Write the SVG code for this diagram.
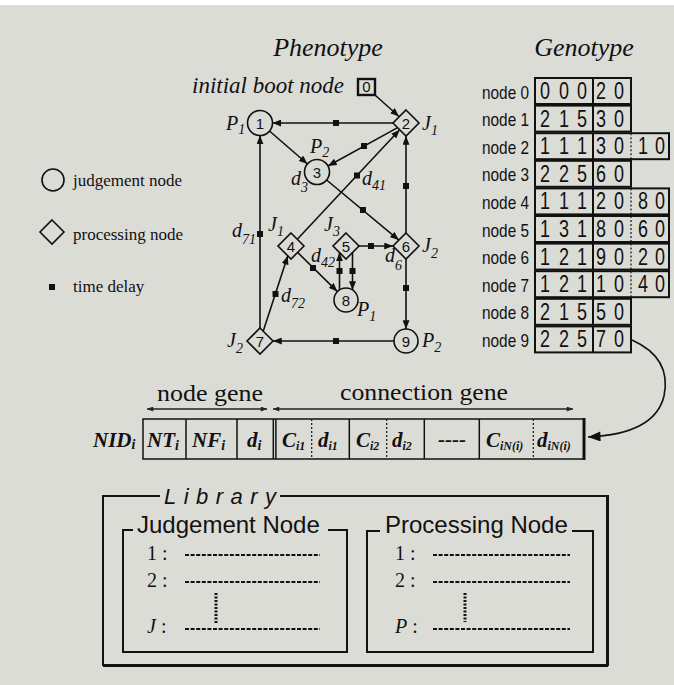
<svg xmlns="http://www.w3.org/2000/svg" width="674" height="685" viewBox="0 0 674 685">
<defs>
<style>
.ser{font-family:"Liberation Serif","Times New Roman",serif;fill:#111}
.it{font-style:italic}
.bi{font-family:"Liberation Serif","Times New Roman",serif;font-style:italic;font-weight:bold;fill:#111;font-size:21px}
.sans{font-family:"Liberation Sans",Arial,sans-serif;fill:#111}
.nd{fill:none;stroke:#111;stroke-width:1.6}
.cn{fill:none;stroke:#111;stroke-width:1.6}
.dl{fill:#111}
.num{font-family:"Liberation Sans",Arial,sans-serif;font-size:15px;fill:#111;text-anchor:middle}
.lab{font-family:"Liberation Serif","Times New Roman",serif;font-style:italic;font-size:20px;fill:#111}
.row{fill:none;stroke:#111;stroke-width:2}
.dig{font-family:"Liberation Sans",Arial,sans-serif;font-size:23px;fill:#111}
.rl{font-family:"Liberation Sans",Arial,sans-serif;font-size:18.5px;fill:#111}
.dash{fill:none;stroke:#111;stroke-width:1.2;stroke-dasharray:2 2}
.sol{fill:none;stroke:#111;stroke-width:1.5}
.lib{fill:none;stroke:#111;stroke-width:2}
.ent{font-family:"Liberation Serif","Times New Roman",serif;font-size:20px;fill:#111}
.dots{fill:none;stroke:#111;stroke-width:1.8;stroke-dasharray:4 1.6}
.vdots{fill:none;stroke:#111;stroke-width:3;stroke-dasharray:2 1.5}
</style>
<marker id="ah" viewBox="0 0 10 8" refX="10" refY="4" markerWidth="9" markerHeight="7" markerUnits="userSpaceOnUse" orient="auto"><path d="M0,0L10,4L0,8z" fill="#111"/></marker>
<marker id="sm" viewBox="0 0 10 8" refX="10" refY="4" markerWidth="7" markerHeight="5" markerUnits="userSpaceOnUse" orient="auto-start-reverse"><path d="M0,0L10,4L0,8z" fill="#222"/></marker>
<marker id="big" viewBox="0 0 10 8" refX="10" refY="4" markerWidth="15" markerHeight="10" markerUnits="userSpaceOnUse" orient="auto"><path d="M0,0L10,4L0,8z" fill="#111"/></marker>
</defs>

<!-- backdrop -->
<rect x="0" y="0" width="674" height="685" fill="#ffffff"/>
<rect x="0" y="5" width="674" height="680" fill="#dcdcd7"/>

<!-- titles -->
<text class="ser it" x="328" y="56" font-size="26" text-anchor="middle">Phenotype</text>
<text class="ser it" x="584" y="56" font-size="26" text-anchor="middle">Genotype</text>
<text class="ser it" x="192" y="93" font-size="23">initial boot node</text>

<!-- legend -->
<g id="legend">
  <circle class="nd" cx="53" cy="180" r="11"/>
  <text class="ser" x="73" y="186" font-size="17">judgement node</text>
  <path class="nd" d="M52,220L64,232L52,244L40,232Z"/>
  <text class="ser" x="73" y="240" font-size="17">processing node</text>
  <rect class="dl" x="49" y="284" width="6" height="6"/>
  <text class="ser" x="73" y="292" font-size="17">time delay</text>
</g>

<!-- connectors of the phenotype graph -->
<g id="connectors">
  <line class="cn" x1="375" y1="95" x2="399" y2="116.5" marker-end="url(#ah)"/>
  <line class="cn" x1="393" y1="123" x2="272.5" y2="123" marker-end="url(#ah)"/>
  <line class="cn" x1="269.5" y1="131" x2="307.5" y2="164" marker-end="url(#ah)"/>
  <line class="cn" x1="397.6" y1="127.6" x2="328" y2="166" marker-end="url(#ah)"/>
  <line class="cn" x1="326.6" y1="180" x2="398.9" y2="240.1" marker-end="url(#ah)"/>
  <line class="cn" x1="297.3" y1="239.3" x2="399.7" y2="129.7" marker-end="url(#ah)"/>
  <line class="cn" x1="297.6" y1="252.4" x2="337.4" y2="291.6" marker-end="url(#ah)"/>
  <line class="cn" x1="359" y1="246" x2="393" y2="246" marker-end="url(#ah)"/>
  <line class="cn" x1="339.5" y1="290" x2="339.5" y2="252.5" marker-end="url(#ah)"/>
  <line class="cn" x1="352.5" y1="252.5" x2="352.5" y2="290" marker-end="url(#ah)"/>
  <line class="cn" x1="406" y1="233" x2="406" y2="136" marker-end="url(#ah)"/>
  <line class="cn" x1="406" y1="259" x2="406" y2="329" marker-end="url(#ah)"/>
  <line class="cn" x1="260" y1="328" x2="260" y2="135.5" marker-end="url(#ah)"/>
  <line class="cn" x1="263.2" y1="331.2" x2="287.8" y2="255.8" marker-end="url(#ah)"/>
  <line class="cn" x1="394" y1="341" x2="273" y2="341" marker-end="url(#ah)"/>
  <!-- time delays -->
  <rect class="dl" x="333" y="120" width="6" height="6"/>
  <rect class="dl" x="361" y="143" width="6" height="6"/>
  <rect class="dl" x="354" y="172.5" width="6" height="6"/>
  <rect class="dl" x="360" y="207" width="6" height="6"/>
  <rect class="dl" x="403" y="183" width="6" height="6"/>
  <rect class="dl" x="368" y="243" width="6" height="6"/>
  <rect class="dl" x="310" y="265" width="6" height="6"/>
  <rect class="dl" x="336.5" y="268" width="6" height="6"/>
  <rect class="dl" x="349.5" y="268" width="6" height="6"/>
  <rect class="dl" x="403" y="285" width="6" height="6"/>
  <rect class="dl" x="257" y="231" width="6" height="6"/>
  <rect class="dl" x="272.5" y="291" width="6" height="6"/>
  <rect class="dl" x="333" y="338" width="6" height="6"/>
</g>

<!-- phenotype nodes -->
<g id="node0"><rect x="358" y="79" width="17" height="16" fill="none" stroke="#111" stroke-width="2.4"/><text class="num" x="366.5" y="92" font-size="14">0</text></g>
<g id="node1"><circle class="nd" cx="260" cy="123" r="12.5"/><text class="num" x="260" y="128.5">1</text></g>
<g id="node2"><path class="nd" d="M406,110L419,123L406,136L393,123Z"/><text class="num" x="406" y="128.5">2</text></g>
<g id="node3"><circle class="nd" cx="317" cy="172" r="12.5"/><text class="num" x="317" y="177.5">3</text></g>
<g id="node4"><path class="nd" d="M291,233L304,246L291,259L278,246Z"/><text class="num" x="291" y="251.5">4</text></g>
<g id="node5"><path class="nd" d="M346,233L359,246L346,259L333,246Z"/><text class="num" x="346" y="251.5">5</text></g>
<g id="node6"><path class="nd" d="M406,233L419,246L406,259L393,246Z"/><text class="num" x="406" y="251.5">6</text></g>
<g id="node7"><path class="nd" d="M260,328L273,341L260,354L247,341Z"/><text class="num" x="260" y="346.5">7</text></g>
<g id="node8"><circle class="nd" cx="346" cy="300" r="12"/><text class="num" x="346" y="305.5">8</text></g>
<g id="node9"><circle class="nd" cx="406" cy="341" r="12"/><text class="num" x="406" y="346.5">9</text></g>

<!-- node and delay labels -->
<g id="labels">
  <text class="lab" x="226" y="130">P<tspan dy="4" font-size="14">1</tspan></text>
  <text class="lab" x="422" y="130">J<tspan dy="5" font-size="14">1</tspan></text>
  <text class="lab" x="310" y="153">P<tspan dy="4" font-size="14">2</tspan></text>
  <text class="lab" x="291" y="185">d<tspan dy="7" font-size="14">3</tspan></text>
  <text class="lab" x="362" y="185">d<tspan dy="5" font-size="14">41</tspan></text>
  <text class="lab" x="268" y="231">J<tspan dy="5" font-size="14">1</tspan></text>
  <text class="lab" x="324" y="231">J<tspan dy="5" font-size="14">3</tspan></text>
  <text class="lab" x="422" y="252">J<tspan dy="6" font-size="14">2</tspan></text>
  <text class="lab" x="232" y="237">d<tspan dy="7" font-size="14">71</tspan></text>
  <text class="lab" x="311" y="262">d<tspan dy="5" font-size="14">42</tspan></text>
  <text class="lab" x="385" y="262">d<tspan dy="8" font-size="14">6</tspan></text>
  <text class="lab" x="281" y="302">d<tspan dy="6" font-size="14">72</tspan></text>
  <text class="lab" x="357" y="316">P<tspan dy="5" font-size="14">1</tspan></text>
  <text class="lab" x="227" y="347">J<tspan dy="6" font-size="14">2</tspan></text>
  <text class="lab" x="422" y="347">P<tspan dy="5" font-size="14">2</tspan></text>
</g>

<!-- genotype table: one boxed row per node, digits squeezed to a narrow face -->
<g id="genotype">
  <g id="row0"><text class="rl" x="482" y="98.5" textLength="47" lengthAdjust="spacingAndGlyphs">node 0</text>
    <rect class="row" x="535" y="78" width="96" height="26"/><line class="row" x1="593" y1="78" x2="593" y2="104"/>
    <text class="dig" x="540" y="99" textLength="10" lengthAdjust="spacingAndGlyphs">0</text><text class="dig" x="559" y="99" textLength="10" lengthAdjust="spacingAndGlyphs">0</text><text class="dig" x="577" y="99" textLength="10" lengthAdjust="spacingAndGlyphs">0</text><text class="dig" x="596" y="99" textLength="10" lengthAdjust="spacingAndGlyphs">2</text><text class="dig" x="614" y="99" textLength="10" lengthAdjust="spacingAndGlyphs">0</text></g>
  <g id="row1"><text class="rl" x="482" y="126.1" textLength="47" lengthAdjust="spacingAndGlyphs">node 1</text>
    <rect class="row" x="535" y="105.6" width="96" height="26"/><line class="row" x1="593" y1="105.6" x2="593" y2="131.6"/>
    <text class="dig" x="540" y="126.6" textLength="10" lengthAdjust="spacingAndGlyphs">2</text><text class="dig" x="559" y="126.6" textLength="10" lengthAdjust="spacingAndGlyphs">1</text><text class="dig" x="577" y="126.6" textLength="10" lengthAdjust="spacingAndGlyphs">5</text><text class="dig" x="596" y="126.6" textLength="10" lengthAdjust="spacingAndGlyphs">3</text><text class="dig" x="614" y="126.6" textLength="10" lengthAdjust="spacingAndGlyphs">0</text></g>
  <g id="row2"><text class="rl" x="482" y="153.7" textLength="47" lengthAdjust="spacingAndGlyphs">node 2</text>
    <rect class="row" x="535" y="133.2" width="134" height="26"/><line class="row" x1="593" y1="133.2" x2="593" y2="159.2"/><line class="dash" x1="631" y1="133.2" x2="631" y2="159.2"/>
    <text class="dig" x="540" y="154.2" textLength="10" lengthAdjust="spacingAndGlyphs">1</text><text class="dig" x="559" y="154.2" textLength="10" lengthAdjust="spacingAndGlyphs">1</text><text class="dig" x="577" y="154.2" textLength="10" lengthAdjust="spacingAndGlyphs">1</text><text class="dig" x="596" y="154.2" textLength="10" lengthAdjust="spacingAndGlyphs">3</text><text class="dig" x="614" y="154.2" textLength="10" lengthAdjust="spacingAndGlyphs">0</text><text class="dig" x="638" y="154.2" textLength="10" lengthAdjust="spacingAndGlyphs">1</text><text class="dig" x="655" y="154.2" textLength="10" lengthAdjust="spacingAndGlyphs">0</text></g>
  <g id="row3"><text class="rl" x="482" y="181.3" textLength="47" lengthAdjust="spacingAndGlyphs">node 3</text>
    <rect class="row" x="535" y="160.8" width="96" height="26"/><line class="row" x1="593" y1="160.8" x2="593" y2="186.8"/>
    <text class="dig" x="540" y="181.8" textLength="10" lengthAdjust="spacingAndGlyphs">2</text><text class="dig" x="559" y="181.8" textLength="10" lengthAdjust="spacingAndGlyphs">2</text><text class="dig" x="577" y="181.8" textLength="10" lengthAdjust="spacingAndGlyphs">5</text><text class="dig" x="596" y="181.8" textLength="10" lengthAdjust="spacingAndGlyphs">6</text><text class="dig" x="614" y="181.8" textLength="10" lengthAdjust="spacingAndGlyphs">0</text></g>
  <g id="row4"><text class="rl" x="482" y="208.9" textLength="47" lengthAdjust="spacingAndGlyphs">node 4</text>
    <rect class="row" x="535" y="188.4" width="134" height="26"/><line class="row" x1="593" y1="188.4" x2="593" y2="214.4"/><line class="dash" x1="631" y1="188.4" x2="631" y2="214.4"/>
    <text class="dig" x="540" y="209.4" textLength="10" lengthAdjust="spacingAndGlyphs">1</text><text class="dig" x="559" y="209.4" textLength="10" lengthAdjust="spacingAndGlyphs">1</text><text class="dig" x="577" y="209.4" textLength="10" lengthAdjust="spacingAndGlyphs">1</text><text class="dig" x="596" y="209.4" textLength="10" lengthAdjust="spacingAndGlyphs">2</text><text class="dig" x="614" y="209.4" textLength="10" lengthAdjust="spacingAndGlyphs">0</text><text class="dig" x="638" y="209.4" textLength="10" lengthAdjust="spacingAndGlyphs">8</text><text class="dig" x="655" y="209.4" textLength="10" lengthAdjust="spacingAndGlyphs">0</text></g>
  <g id="row5"><text class="rl" x="482" y="236.5" textLength="47" lengthAdjust="spacingAndGlyphs">node 5</text>
    <rect class="row" x="535" y="216" width="134" height="26"/><line class="row" x1="593" y1="216" x2="593" y2="242"/><line class="dash" x1="631" y1="216" x2="631" y2="242"/>
    <text class="dig" x="540" y="237" textLength="10" lengthAdjust="spacingAndGlyphs">1</text><text class="dig" x="559" y="237" textLength="10" lengthAdjust="spacingAndGlyphs">3</text><text class="dig" x="577" y="237" textLength="10" lengthAdjust="spacingAndGlyphs">1</text><text class="dig" x="596" y="237" textLength="10" lengthAdjust="spacingAndGlyphs">8</text><text class="dig" x="614" y="237" textLength="10" lengthAdjust="spacingAndGlyphs">0</text><text class="dig" x="638" y="237" textLength="10" lengthAdjust="spacingAndGlyphs">6</text><text class="dig" x="655" y="237" textLength="10" lengthAdjust="spacingAndGlyphs">0</text></g>
  <g id="row6"><text class="rl" x="482" y="264.1" textLength="47" lengthAdjust="spacingAndGlyphs">node 6</text>
    <rect class="row" x="535" y="243.6" width="134" height="26"/><line class="row" x1="593" y1="243.6" x2="593" y2="269.6"/><line class="dash" x1="631" y1="243.6" x2="631" y2="269.6"/>
    <text class="dig" x="540" y="264.6" textLength="10" lengthAdjust="spacingAndGlyphs">1</text><text class="dig" x="559" y="264.6" textLength="10" lengthAdjust="spacingAndGlyphs">2</text><text class="dig" x="577" y="264.6" textLength="10" lengthAdjust="spacingAndGlyphs">1</text><text class="dig" x="596" y="264.6" textLength="10" lengthAdjust="spacingAndGlyphs">9</text><text class="dig" x="614" y="264.6" textLength="10" lengthAdjust="spacingAndGlyphs">0</text><text class="dig" x="638" y="264.6" textLength="10" lengthAdjust="spacingAndGlyphs">2</text><text class="dig" x="655" y="264.6" textLength="10" lengthAdjust="spacingAndGlyphs">0</text></g>
  <g id="row7"><text class="rl" x="482" y="291.7" textLength="47" lengthAdjust="spacingAndGlyphs">node 7</text>
    <rect class="row" x="535" y="271.2" width="134" height="26"/><line class="row" x1="593" y1="271.2" x2="593" y2="297.2"/><line class="dash" x1="631" y1="271.2" x2="631" y2="297.2"/>
    <text class="dig" x="540" y="292.2" textLength="10" lengthAdjust="spacingAndGlyphs">1</text><text class="dig" x="559" y="292.2" textLength="10" lengthAdjust="spacingAndGlyphs">2</text><text class="dig" x="577" y="292.2" textLength="10" lengthAdjust="spacingAndGlyphs">1</text><text class="dig" x="596" y="292.2" textLength="10" lengthAdjust="spacingAndGlyphs">1</text><text class="dig" x="614" y="292.2" textLength="10" lengthAdjust="spacingAndGlyphs">0</text><text class="dig" x="638" y="292.2" textLength="10" lengthAdjust="spacingAndGlyphs">4</text><text class="dig" x="655" y="292.2" textLength="10" lengthAdjust="spacingAndGlyphs">0</text></g>
  <g id="row8"><text class="rl" x="482" y="319.3" textLength="47" lengthAdjust="spacingAndGlyphs">node 8</text>
    <rect class="row" x="535" y="298.8" width="96" height="26"/><line class="row" x1="593" y1="298.8" x2="593" y2="324.8"/>
    <text class="dig" x="540" y="319.8" textLength="10" lengthAdjust="spacingAndGlyphs">2</text><text class="dig" x="559" y="319.8" textLength="10" lengthAdjust="spacingAndGlyphs">1</text><text class="dig" x="577" y="319.8" textLength="10" lengthAdjust="spacingAndGlyphs">5</text><text class="dig" x="596" y="319.8" textLength="10" lengthAdjust="spacingAndGlyphs">5</text><text class="dig" x="614" y="319.8" textLength="10" lengthAdjust="spacingAndGlyphs">0</text></g>
  <g id="row9"><text class="rl" x="482" y="346.9" textLength="47" lengthAdjust="spacingAndGlyphs">node 9</text>
    <rect class="row" x="535" y="326.4" width="96" height="26"/><line class="row" x1="593" y1="326.4" x2="593" y2="352.4"/>
    <text class="dig" x="540" y="347.4" textLength="10" lengthAdjust="spacingAndGlyphs">2</text><text class="dig" x="559" y="347.4" textLength="10" lengthAdjust="spacingAndGlyphs">2</text><text class="dig" x="577" y="347.4" textLength="10" lengthAdjust="spacingAndGlyphs">5</text><text class="dig" x="596" y="347.4" textLength="10" lengthAdjust="spacingAndGlyphs">7</text><text class="dig" x="614" y="347.4" textLength="10" lengthAdjust="spacingAndGlyphs">0</text></g>
  <path class="cn" d="M632,340 Q672,358 664,396 Q655,434 588,437" marker-end="url(#big)"/>
</g>

<!-- gene structure -->
<g id="gene">
  <text class="ser" x="157" y="401" font-size="24" textLength="106" lengthAdjust="spacingAndGlyphs">node gene</text>
  <text class="ser" x="340" y="400" font-size="24" textLength="168" lengthAdjust="spacingAndGlyphs">connection gene</text>
  <line stroke="#222" stroke-width="1.5" x1="147" y1="409" x2="267" y2="409" marker-start="url(#sm)" marker-end="url(#sm)"/>
  <line stroke="#222" stroke-width="1.5" x1="273" y1="409" x2="573" y2="409" marker-start="url(#sm)" marker-end="url(#sm)"/>
  <text class="bi" x="93" y="447">NID<tspan font-size="14" dy="2">i</tspan></text>
  <rect class="sol" x="143" y="419" width="441" height="40"/>
  <line stroke="#111" stroke-width="3" x1="584" y1="418" x2="584" y2="460"/>
  <line class="sol" x1="186" y1="419" x2="186" y2="459"/>
  <line class="sol" x1="237" y1="419" x2="237" y2="459"/>
  <line class="sol" x1="273.3" y1="419" x2="273.3" y2="459"/>
  <line class="sol" x1="275.9" y1="419" x2="275.9" y2="459"/>
  <line class="dash" x1="311.7" y1="419" x2="311.7" y2="459"/>
  <line class="sol" x1="349.3" y1="419" x2="349.3" y2="459"/>
  <line class="dash" x1="386.7" y1="419" x2="386.7" y2="459"/>
  <line class="sol" x1="424.3" y1="419" x2="424.3" y2="459"/>
  <line class="sol" x1="479.3" y1="419" x2="479.3" y2="459"/>
  <line class="dash" x1="533.3" y1="419" x2="533.3" y2="459"/>
  <text class="bi" x="147" y="447">NT<tspan font-size="14" dy="3">i</tspan></text>
  <text class="bi" x="192" y="447">NF<tspan font-size="14" dy="3">i</tspan></text>
  <text class="bi" x="247" y="447">d<tspan font-size="14" dy="3">i</tspan></text>
  <text class="bi" x="282" y="447">C<tspan font-size="12" dy="3">i1</tspan></text>
  <text class="bi" x="318" y="447">d<tspan font-size="12" dy="3">i1</tspan></text>
  <text class="bi" x="356" y="447">C<tspan font-size="12" dy="3">i2</tspan></text>
  <text class="bi" x="392" y="447">d<tspan font-size="12" dy="3">i2</tspan></text>
  <text class="bi" x="452" y="446" font-size="18" text-anchor="middle" font-style="normal">----</text>
  <text class="bi" x="486" y="447">C<tspan font-size="12" dy="3">iN(i)</tspan></text>
  <text class="bi" x="537" y="447">d<tspan font-size="12" dy="3">iN(i)</tspan></text>
</g>

<!-- library -->
<g id="library">
  <path class="lib" d="M160,496H103V665H607V496H280"/>
  <line stroke="#111" stroke-width="3" x1="103" y1="665.5" x2="608" y2="665.5"/>
  <line stroke="#111" stroke-width="3" x1="607.5" y1="495" x2="607.5" y2="666"/>
  <text class="sans it" x="164" y="504" font-size="22" textLength="112" lengthAdjust="spacing">Library</text>
  <g id="judgement-list">
    <path class="lib" d="M133,530H123V652H347V530H328"/>
    <text class="sans" x="137" y="533" font-size="24">Judgement Node</text>
    <text class="ent" x="147" y="560">1 :</text>
    <text class="ent" x="147" y="587">2 :</text>
    <text class="ent" x="147" y="633"><tspan font-style="italic">J</tspan> :</text>
    <line class="dots" x1="185" y1="555" x2="320" y2="555"/>
    <line class="dots" x1="185" y1="582" x2="320" y2="582"/>
    <line class="dots" x1="185" y1="629" x2="320" y2="629"/>
    <line class="vdots" x1="216" y1="593" x2="216" y2="623"/>
  </g>
  <g id="processing-list">
    <path class="lib" d="M380,531H367V652H593V531H572"/>
    <text class="sans" x="385" y="533" font-size="24">Processing Node</text>
    <text class="ent" x="395" y="560">1 :</text>
    <text class="ent" x="395" y="587">2 :</text>
    <text class="ent" x="395" y="633"><tspan font-style="italic">P</tspan> :</text>
    <line class="dots" x1="433" y1="555" x2="570" y2="555"/>
    <line class="dots" x1="433" y1="582" x2="570" y2="582"/>
    <line class="dots" x1="433" y1="629" x2="570" y2="629"/>
    <line class="vdots" x1="465" y1="593" x2="465" y2="622"/>
  </g>
</g>
</svg>
